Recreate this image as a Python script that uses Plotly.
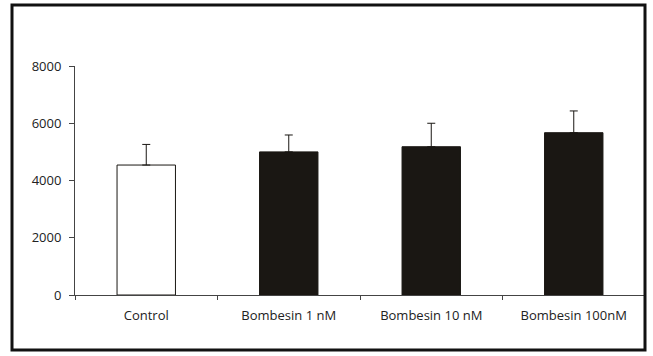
import plotly.graph_objects as go

# Treatment groups and measured means with SEM
categories = ["Control", "Bombesin 1 nM", "Bombesin 10 nM", "Bombesin 100nM"]
means = [4540, 5000, 5180, 5670]
sem = [720, 590, 820, 760]
y_ticks = [0, 2000, 4000, 6000, 8000]

bar_fill = ["#ffffff", "#1a1713", "#1a1713", "#1a1713"]

fig = go.Figure()
fig.add_trace(go.Bar(
    x=categories,
    y=means,
    width=0.41,
    marker=dict(color=bar_fill, line=dict(color="#1a1713", width=1)),
    error_y=dict(type="data", array=sem, arrayminus=[0] * len(sem),
                 symmetric=False, color="#1a1713", thickness=1, width=4),
    showlegend=False,
))

W, H = 653, 356
L, R, T, B = 75, 8, 66, 61
pw, ph = W - L - R, H - T - B

def px_x(p):
    return (p - L) / pw

def px_y(p):
    return (H - B - p) / ph

# outer frame around the whole chart
fig.add_shape(type="rect", xref="paper", yref="paper",
              x0=px_x(12), x1=px_x(645), y0=px_y(350), y1=px_y(5),
              line=dict(color="#111111", width=3), fillcolor="rgba(0,0,0,0)")

fig.update_layout(
    width=W, height=H,
    margin=dict(l=L, r=R, t=T, b=B, pad=0),
    paper_bgcolor="white", plot_bgcolor="white",
    font=dict(family="Open Sans", size=13, color="#222222"),
    bargap=0.59,
    xaxis=dict(
        type="category", tickson="boundaries", ticks="outside", ticklen=4,
        tickcolor="#444444", showline=True, linecolor="#444444", linewidth=1,
        showgrid=False, zeroline=False, ticklabelstandoff=8,
        range=[-0.5, 3.5],
    ),
    yaxis=dict(
        range=[0, 8000], tickvals=y_ticks, ticktext=[str(v) for v in y_ticks],
        ticks="outside", ticklen=5, tickcolor="#444444",
        showline=True, linecolor="#444444", linewidth=1,
        showgrid=False, zeroline=False, ticklabelstandoff=5,
    ),
)

fig.write_html("out.html")
